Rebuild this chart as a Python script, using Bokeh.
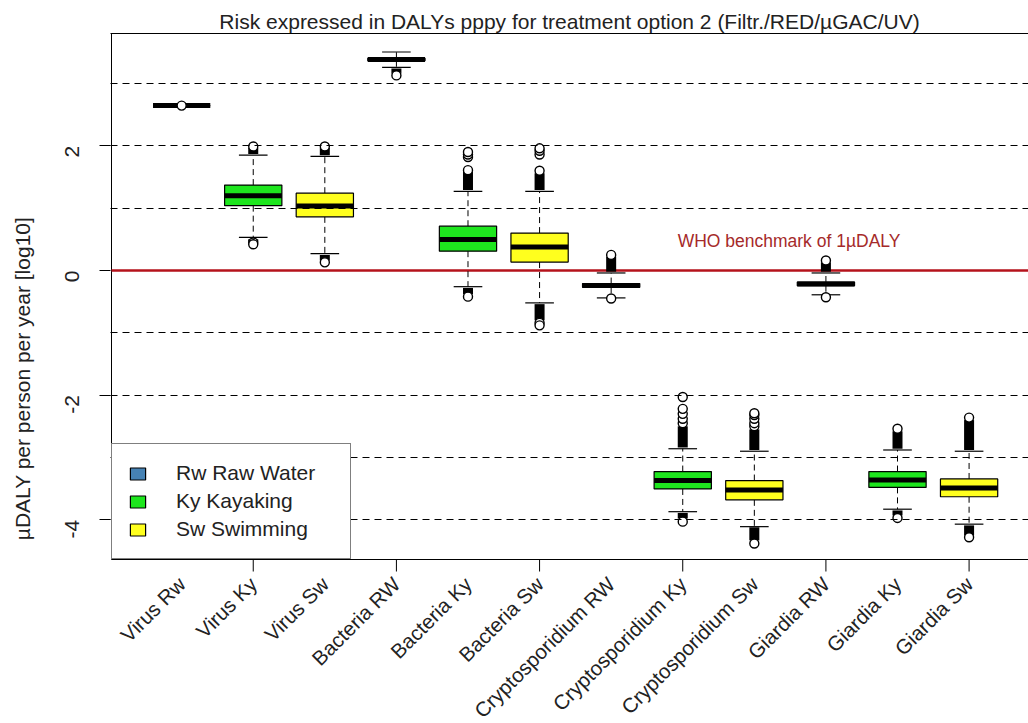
import math
from bokeh.plotting import figure
from bokeh.models import (ColumnDataSource, FixedTicker, LinearAxis, Label,
                          Legend, LegendItem, Range1d)
from bokeh.core.properties import value
from bokeh.embed import file_html
from bokeh.resources import INLINE

# ---------------- data (log10 µDALY pppy) ----------------
categories = ["Virus Rw", "Virus Ky", "Virus Sw", "Bacteria RW", "Bacteria Ky", "Bacteria Sw",
              "Cryptosporidium RW", "Cryptosporidium Ky", "Cryptosporidium Sw",
              "Giardia RW", "Giardia Ky", "Giardia Sw"]
groups = ["Rw", "Ky", "Sw", "Rw", "Ky", "Sw", "Rw", "Ky", "Sw", "Rw", "Ky", "Sw"]

median = [2.645, 1.20, 1.035, 3.385, 0.495, 0.375, -0.24, -3.37, -3.52, -0.215, -3.36, -3.49]
q1 = [2.645, 1.04, 0.86, 3.365, 0.31, 0.135, -0.27, -3.505, -3.68, -0.245, -3.48, -3.63]
q3 = [2.645, 1.37, 1.24, 3.405, 0.71, 0.60, -0.21, -3.226, -3.37, -0.185, -3.226, -3.345]
whisker_lo = [2.645, 0.53, 0.27, 3.26, -0.26, -0.52, -0.44, -3.87, -4.11, -0.39, -3.83, -4.07]
whisker_hi = [2.645, 1.85, 1.83, 3.505, 1.27, 1.27, -0.04, -2.86, -2.90, -0.04, -2.88, -2.90]

# runs of densely overlapping outliers (from, to)
outlier_runs = [
    [],
    [(1.87, 1.97), (0.50, 0.46)],
    [(1.85, 1.97), (0.25, 0.16)],
    [(3.24, 3.16)],
    [(1.29, 1.58), (-0.28, -0.38)],
    [(1.29, 1.56), (-0.54, -0.80)],
    [(-0.02, 0.22)],
    [(-2.84, -2.50), (-3.89, -3.98)],
    [(-2.88, -2.55), (-4.12, -4.33)],
    [(-0.02, 0.13)],
    [(-2.86, -2.58), (-3.85, -3.93)],
    [(-2.88, -2.40), (-4.09, -4.25)],
]
# individual outliers
outliers = [
    [2.645],
    [1.99, 0.45, 0.42],
    [1.99, 0.13],
    [3.13],
    [1.61, 1.82, 1.86, 1.90, -0.42],
    [1.60, 1.86, 1.92, 1.96, -0.84, -0.88],
    [0.25, -0.45],
    [-2.45, -2.38, -2.30, -2.22, -2.03, -4.03],
    [-2.50, -2.45, -2.38, -2.32, -2.29, -4.38],
    [0.16, -0.43],
    [-2.54, -3.97],
    [-2.36, -4.28],
]

group_labels = {"Rw": "Rw Raw Water", "Ky": "Ky Kayaking", "Sw": "Sw Swimming"}
group_colors = {"Rw": "#4682b4", "Ky": "#1ee61e", "Sw": "#ffff1e"}
y_major_ticks = [-4, -2, 0, 2]
grid_levels = [-4, -3, -2, -1, 1, 2, 3]
benchmark = 0.0

FONT = "Liberation Sans"
TXT = "#222222"
positions = list(range(1, len(categories) + 1))

# panel geometry: the box region spans 526 px for Y0..Y1; the drawing frame is extended
# below it so the rotated category names can be drawn inside the frame
Y0, Y1 = -4.637, 3.802
PX = 526 / (Y1 - Y0)
BOTTOM_PX = 164
YB = Y0 - BOTTOM_PX / PX
X0, X1 = 0.02, 12.83
XPX = (1028 - 111) / (X1 - X0)
XS = X0 - 1 / XPX

# ---------------- figure ----------------
p = figure(width=1028, height=723, x_range=Range1d(XS, X1), y_range=Range1d(YB, Y1),
           output_backend="svg", toolbar_location=None,
           min_border_left=110, min_border_right=0, min_border_top=33, min_border_bottom=0)
p.outline_line_color = None
p.background_fill_color = "white"
p.border_fill_color = "white"

p.title.text = "Risk expressed in DALYs pppy for treatment option 2 (Filtr./RED/\u00b5GAC/UV)"
p.title.text_font = FONT
p.title.text_font_size = "21px"
p.title.text_font_style = "normal"
p.title.text_color = TXT
p.title.align = "center"
p.title.standoff = 2
p.title.offset = 4

p.xaxis.visible = False

# y axis (ticks and labels only; the frame line is drawn below)
ya = p.yaxis[0]
ya.ticker = FixedTicker(ticks=y_major_ticks)
ya.major_label_overrides = {t: str(t) for t in y_major_ticks}
ya.major_label_orientation = math.pi / 2
ya.major_tick_out = 11
ya.major_tick_in = 0
ya.minor_tick_line_color = None
ya.axis_line_color = None
ya.major_label_standoff = 27
ya.major_label_text_font = FONT
ya.major_label_text_font_size = "21px"
ya.major_label_text_color = TXT
ya.axis_label = "\u00b5DALY per person per year [log10]"
ya.axis_label_text_font = FONT
ya.axis_label_text_font_size = "21px"
ya.axis_label_text_font_style = "normal"
ya.axis_label_text_color = TXT
ya.axis_label_standoff = 22

# top frame line
top = LinearAxis(ticker=FixedTicker(ticks=[]), major_tick_out=0, major_tick_in=0,
                 minor_tick_out=0, minor_tick_in=0, major_label_standoff=0,
                 major_label_text_font_size="0px", axis_line_color="black")
p.add_layout(top, "above")

# grid
p.xgrid.visible = False
p.ygrid.ticker = FixedTicker(ticks=grid_levels)
p.ygrid.grid_line_color = "black"
p.ygrid.grid_line_dash = "7 5"
p.ygrid.grid_line_width = 1
p.ygrid.level = "annotation"

# left and bottom frame lines, x ticks at even positions
p.segment(x0=[X0, X0], y0=[Y0, Y0], x1=[X0, X1], y1=[Y1, Y0], line_color="black", line_width=1)
even = positions[1::2]
p.segment(x0=even, y0=[Y0] * len(even), x1=even, y1=[Y0 - 12 / PX] * len(even),
          line_color="black", line_width=1)

# category names
label_y = Y0 - 21 / PX
p.text(x=positions, y=[label_y] * len(positions), text=categories, angle=math.pi / 4,
       text_align="right", text_baseline="middle", text_font=value(FONT),
       text_font_size="20.5px", text_color=TXT)

# benchmark line
p.segment(x0=[X0], y0=[benchmark], x1=[X1], y1=[benchmark], line_color="#b5121b",
          line_width=2.5)
p.add_layout(Label(x=9.485, y=0.48, text="WHO benchmark of 1\u00b5DALY", text_align="center",
                   text_baseline="middle", text_color="#a52a2a", text_font=FONT,
                   text_font_size="17.5px"))

# whiskers
p.segment(x0=positions, y0=q3, x1=positions, y1=whisker_hi, line_color="black",
          line_width=1, line_dash="6 4")
p.segment(x0=positions, y0=q1, x1=positions, y1=whisker_lo, line_color="black",
          line_width=1, line_dash="6 4")
cap_l = [x - 0.2 for x in positions]
cap_r = [x + 0.2 for x in positions]
p.segment(x0=cap_l, y0=whisker_hi, x1=cap_r, y1=whisker_hi, line_color="black", line_width=1.2)
p.segment(x0=cap_l, y0=whisker_lo, x1=cap_r, y1=whisker_lo, line_color="black", line_width=1.2)

# boxes per group (for the legend)
box_renderers = {}
for g in ["Rw", "Ky", "Sw"]:
    idx = [i for i, gg in enumerate(groups) if gg == g]
    src = ColumnDataSource(dict(x=[positions[i] for i in idx], top=[q3[i] for i in idx],
                                bottom=[q1[i] for i in idx]))
    box_renderers[g] = p.vbar(x="x", top="top", bottom="bottom", width=0.8, source=src,
                              fill_color=group_colors[g], line_color="black", line_width=1.2)

# medians
med_l = [x - 0.4 for x in positions]
med_r = [x + 0.4 for x in positions]
p.segment(x0=med_l, y0=median, x1=med_r, y1=median, line_color="black", line_width=5)

# outliers
rx, r0, r1 = [], [], []
for pos, runs in zip(positions, outlier_runs):
    for a, b in runs:
        rx.append(pos); r0.append(a); r1.append(b)
p.segment(x0=rx, y0=r0, x1=rx, y1=r1, line_color="black", line_width=10)
ox, oy = [], []
for pos, vals in zip(positions, outliers):
    for v in vals:
        ox.append(pos); oy.append(v)
p.scatter(x=ox, y=oy, marker="circle", size=9, fill_color="white", line_color="black",
          line_width=1.4)

# legend
legend = Legend(items=[LegendItem(label=group_labels[g], renderers=[box_renderers[g]])
                       for g in ["Rw", "Ky", "Sw"]],
                location=(1, BOTTOM_PX), orientation="vertical")
legend.border_line_color = "black"
legend.border_line_width = 1
legend.background_fill_color = "white"
legend.background_fill_alpha = 1
legend.label_text_font = FONT
legend.label_text_font_size = "21px"
legend.label_text_color = TXT
legend.glyph_width = 19
legend.glyph_height = 15
legend.padding = 16
legend.spacing = 2
legend.label_height = 26
legend.label_standoff = 29
legend.label_width = 158
legend.margin = 0
p.add_layout(legend, "center")

open("out.html", "w").write(file_html(p, INLINE))
